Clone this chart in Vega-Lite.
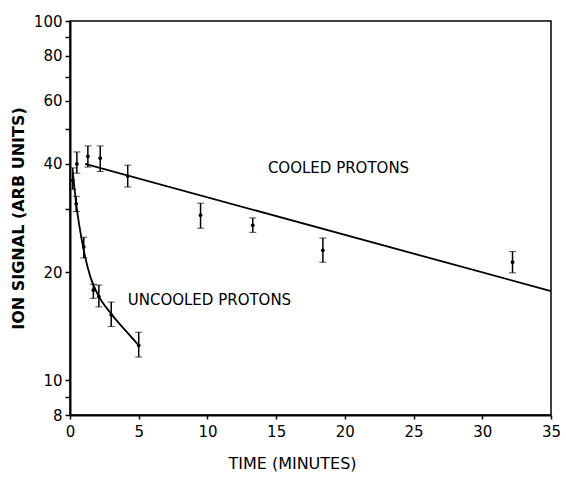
{
  "$schema": "https://vega.github.io/schema/vega-lite/v6.json",
  "width": 481,
  "height": 394,
  "autosize": {"type": "none"},
  "padding": {"left": 70, "top": 21, "right": 15, "bottom": 77},
  "background": "white",
  "config": {
    "view": {"stroke": "black", "strokeWidth": 1.5},
    "font": "DejaVu Sans",
    "axis": {"domainColor": "black", "domainWidth": 2, "tickColor": "black", "tickWidth": 1.5, "labelColor": "black", "titleColor": "black", "labelFont": "DejaVu Sans", "titleFont": "DejaVu Sans", "grid": false}
  },
  "datasets": {
    "cooled": [
      {"t": 0.5, "v": 40, "lo": 37.7, "hi": 43.2},
      {"t": 1.3, "v": 42, "lo": 39.2, "hi": 44.9},
      {"t": 2.2, "v": 41.5, "lo": 38.1, "hi": 44.9},
      {"t": 4.2, "v": 37, "lo": 34.5, "hi": 39.7},
      {"t": 9.5, "v": 28.8, "lo": 26.5, "hi": 31.1},
      {"t": 13.3, "v": 27, "lo": 25.8, "hi": 28.3},
      {"t": 18.4, "v": 23, "lo": 21.3, "hi": 24.9},
      {"t": 32.2, "v": 21.3, "lo": 19.9, "hi": 22.8}
    ],
    "uncooled": [
      {"t": 0.2, "v": 36, "lo": 34, "hi": 39},
      {"t": 0.45, "v": 31, "lo": 29.5, "hi": 32.5},
      {"t": 1.0, "v": 23.5, "lo": 21.9, "hi": 25.0},
      {"t": 1.7, "v": 17.8, "lo": 16.9, "hi": 18.5},
      {"t": 2.1, "v": 17.1, "lo": 16.0, "hi": 18.4},
      {"t": 3.0, "v": 15.2, "lo": 14.1, "hi": 16.5},
      {"t": 5.0, "v": 12.5, "lo": 11.6, "hi": 13.6}
    ],
    "cooledFit": [
      {"t": 1.1, "v": 40},
      {"t": 35, "v": 17.7}
    ],
    "uncooledFit": [
      {"t": 0.2, "v": 38},
      {"t": 0.45, "v": 31},
      {"t": 1.0, "v": 23},
      {"t": 1.5, "v": 19.3},
      {"t": 2.0, "v": 17.4},
      {"t": 3.0, "v": 15.3},
      {"t": 4.0, "v": 13.8},
      {"t": 5.0, "v": 12.5}
    ],
    "labels": [
      {"t": 14.4, "v": 39, "text": "COOLED PROTONS"},
      {"t": 4.2, "v": 16.7, "text": "UNCOOLED PROTONS"}
    ]
  },
  "encoding": {
    "x": {"field": "t", "type": "quantitative", "scale": {"domain": [0, 35], "nice": false, "zero": false},
      "axis": {"values": [0, 5, 10, 15, 20, 25, 30, 35], "title": "TIME (MINUTES)", "titleFontSize": 16, "titleFontWeight": "normal", "titlePadding": 16, "titleX": 222, "labelFontSize": 15, "tickSize": 4, "labelPadding": 5, "labelFlush": false}},
    "y": {"field": "v", "type": "quantitative", "scale": {"type": "log", "domain": [8, 100], "nice": false},
      "axis": {"values": [8, 9, 10, 20, 30, 40, 50, 60, 70, 80, 90, 100], "labelExpr": "datum.value==9||datum.value==30||datum.value==50||datum.value==70||datum.value==90 ? '' : datum.label", "title": "ION SIGNAL (ARB UNITS)", "titleFontSize": 16, "titleFontWeight": "bold", "titlePadding": 7, "labelFontSize": 15, "tickSize": 5, "labelPadding": 3}}
  },
  "layer": [
    {"data": {"name": "cooledFit"}, "mark": {"type": "line", "color": "black", "strokeWidth": 1.8}},
    {"data": {"name": "uncooledFit"}, "mark": {"type": "line", "color": "black", "strokeWidth": 1.8, "interpolate": "monotone"}},
    {"data": {"name": "cooled"}, "mark": {"type": "errorbar", "ticks": {"color": "black", "size": 7}, "rule": {"color": "black", "strokeWidth": 1.5}},
      "encoding": {"y": {"field": "lo", "type": "quantitative"}, "y2": {"field": "hi"}}},
    {"data": {"name": "uncooled"}, "mark": {"type": "errorbar", "ticks": {"color": "black", "size": 7}, "rule": {"color": "black", "strokeWidth": 1.5}},
      "encoding": {"y": {"field": "lo", "type": "quantitative"}, "y2": {"field": "hi"}}},
    {"data": {"name": "cooled"}, "mark": {"type": "point", "filled": true, "color": "black", "size": 14, "opacity": 1}},
    {"data": {"name": "uncooled"}, "mark": {"type": "point", "filled": true, "color": "black", "size": 14, "opacity": 1}},
    {"data": {"name": "labels"}, "mark": {"type": "text", "align": "left", "baseline": "middle", "fontSize": 15, "color": "black"},
      "encoding": {"text": {"field": "text"}}}
  ]
}
